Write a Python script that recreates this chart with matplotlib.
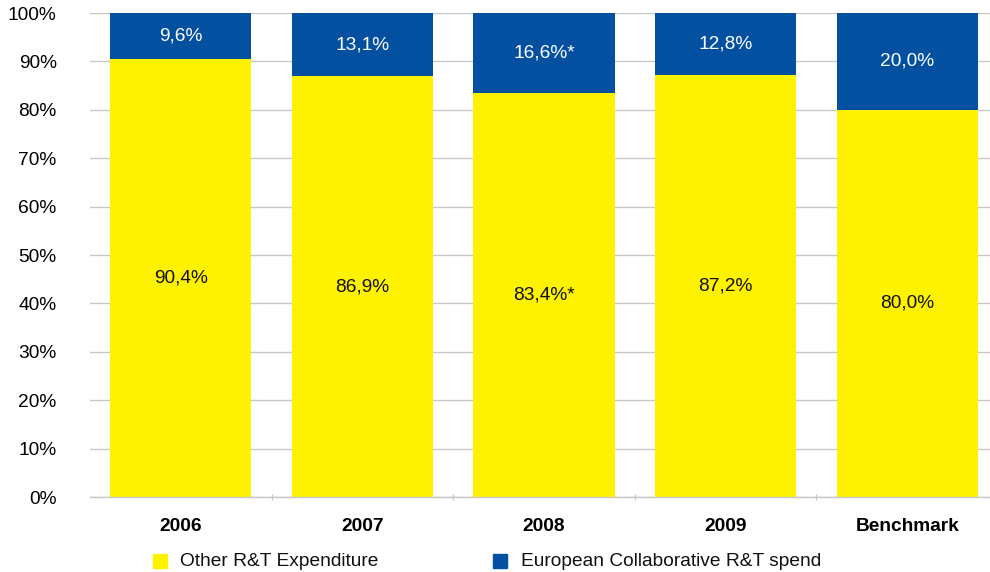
import matplotlib.pyplot as plt
import numpy as np

plt.rcParams['font.family'] = ['Liberation Sans', 'DejaVu Sans']

# 各年度研发支出构成 (%)
categories = ['2006', '2007', '2008', '2009', 'Benchmark']
other_rt = [90.4, 86.9, 83.4, 87.2, 80.0]
european_rt = [9.6, 13.1, 16.6, 12.8, 20.0]
other_labels = ['90,4%', '86,9%', '83,4%*', '87,2%', '80,0%']
european_labels = ['9,6%', '13,1%', '16,6%*', '12,8%', '20,0%']

YELLOW = '#FFF200'
BLUE = '#0450A0'
FS = 13.8

fig = plt.figure(figsize=(9.9, 5.72), dpi=100)
ax = fig.add_axes([90 / 990, 75 / 572, 908 / 990, 484 / 572])

x = np.arange(len(categories))
width = 0.777
ax.bar(x, other_rt, width, color=YELLOW, zorder=3)
ax.bar(x, european_rt, width, bottom=other_rt, color=BLUE, zorder=3)

for xi, v, lab in zip(x, other_rt, other_labels):
    ax.text(xi, v / 2, lab, ha='center', va='center', fontsize=FS, color='#111111', zorder=4)
for xi, base, v, lab in zip(x, other_rt, european_rt, european_labels):
    ax.text(xi, base + v / 2, lab, ha='center', va='center', fontsize=FS, color='white', zorder=4)

ax.set_xlim(-0.5, len(categories) - 0.5)
ax.set_ylim(0, 100)
ax.set_yticks(np.arange(0, 101, 10))
ax.set_yticklabels([f'{v}%' for v in range(0, 101, 10)], fontsize=FS)
ax.yaxis.grid(True, color='#c8c8c8', linewidth=1, zorder=0)
ax.tick_params(axis='y', length=0, pad=24)

# 类别标签放在 minor ticks 上，major ticks 画分隔线
ax.set_xticks(np.arange(0.5, len(categories) - 1, 1))
ax.set_xticklabels([])
ax.tick_params(axis='x', which='major', length=4, direction='inout', color='#c8c8c8', width=1)
ax.set_xticks(x, minor=True)
ax.set_xticklabels(categories, minor=True, fontsize=FS, fontweight='bold')
ax.tick_params(axis='x', which='minor', length=0, pad=15)

for side in ['top', 'right', 'left']:
    ax.spines[side].set_visible(False)
ax.spines['bottom'].set_color('#c8c8c8')
ax.spines['bottom'].set_linewidth(1)
ax.spines['bottom'].set_zorder(5)

# 图例
fig.patches.append(plt.Rectangle((153 / 990, 4 / 572), 14 / 990, 14 / 572,
                                 transform=fig.transFigure, color=YELLOW))
fig.text(180 / 990, 11 / 572, 'Other R&T Expenditure', fontsize=FS, va='center', color='#111111')
fig.patches.append(plt.Rectangle((493 / 990, 4 / 572), 14 / 990, 14 / 572,
                                 transform=fig.transFigure, color=BLUE))
fig.text(521 / 990, 11 / 572, 'European Collaborative R&T spend', fontsize=FS, va='center', color='#111111')

fig.savefig('out.png', dpi=100)
